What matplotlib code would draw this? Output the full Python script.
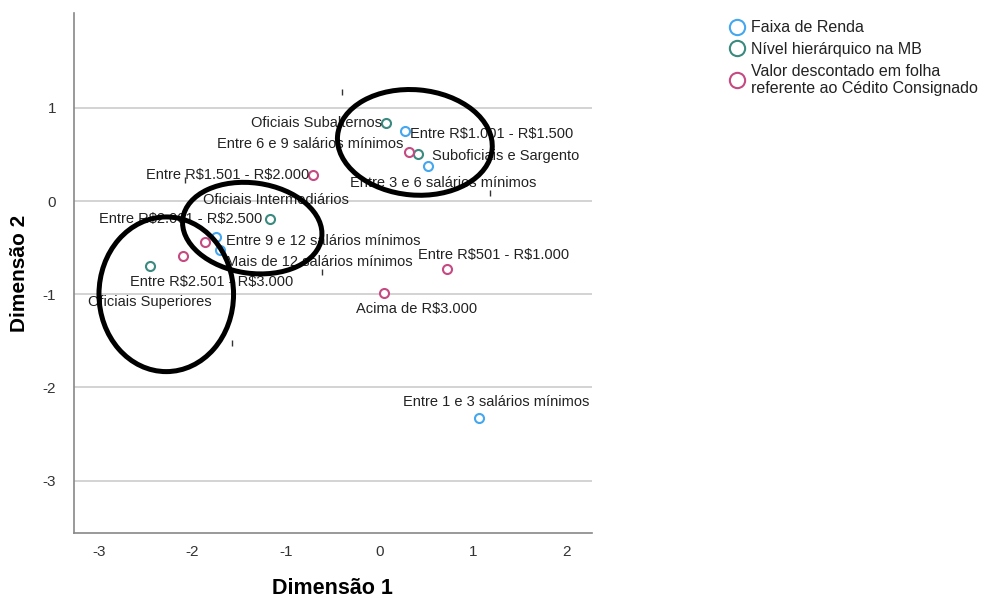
import matplotlib
matplotlib.use("Agg")
import matplotlib.pyplot as plt
from matplotlib.patches import Ellipse
from matplotlib.lines import Line2D

plt.rcParams['font.family'] = ['Liberation Sans', 'DejaVu Sans']
plt.rcParams['axes.unicode_minus'] = False

# --- category coordinates (Dimensão 1, Dimensão 2) ---
renda_labels = ["Entre 1 e 3 salários mínimos", "Entre 3 e 6 salários mínimos",
                "Entre 6 e 9 salários mínimos", "Entre 9 e 12 salários mínimos",
                "Mais de 12 salários mínimos"]
renda_x = [1.07, 0.52, 0.27, -1.75, -1.70]
renda_y = [-2.33, 0.38, 0.75, -0.38, -0.53]

nivel_labels = ["Oficiais Subalternos", "Suboficiais e Sargento",
                "Oficiais Intermediários", "Oficiais Superiores"]
nivel_x = [0.07, 0.41, -1.17, -2.45]
nivel_y = [0.84, 0.51, -0.19, -0.70]

valor_labels = ["Entre R$501 - R$1.000", "Entre R$1.001 - R$1.500",
                "Entre R$1.501 - R$2.000", "Entre R$2.001 - R$2.500",
                "Entre R$2.501 - R$3.000", "Acima de R$3.000"]
valor_x = [0.72, 0.32, -0.71, -1.87, -2.10, 0.05]
valor_y = [-0.73, 0.53, 0.28, -0.44, -0.59, -0.99]

series_names = ["Faixa de Renda", "Nível hierárquico na MB",
                "Valor descontado em folha\nreferente ao Cédito Consignado"]

# small stray label ticks left on the plot
stray_x = [-0.40, -2.08, -0.61, 1.18, -1.58]
stray_y = [1.17, 0.23, -0.76, 0.09, -1.52]

# highlighted groups: (center x, center y, width, height, angle)
groups = [(0.38, 0.63, 1.66, 1.13, -5),
          (-1.36, -0.29, 1.50, 0.97, -8),
          (-2.28, -1.00, 1.44, 1.66, 0)]

xticks = [-3, -2, -1, 0, 1, 2]
yticks = [-3, -2, -1, 0, 1]

# label placement: (ha, dx px, dy px)
renda_pos = [("center", 17, 16), ("center", 15, -17), ("right", -1, -13),
             ("left", 10, -4), ("left", 6, -12)]
nivel_pos = [("right", -4, 0), ("left", 14, -2), ("center", 6, 19), ("center", -1, -36)]
valor_pos = [("center", 47, 14), ("left", 1, 18), ("right", -4, 0),
             ("center", -24, 23), ("center", 29, -26), ("center", 33, -16)]

colors = ["#44a7ef", "#3a8a80", "#c64a82"]

fig = plt.figure(figsize=(10.03, 5.98), dpi=100)
ax = fig.add_axes([0.0738, 0.1087, 0.5162, 0.8693])
ax.set_xlim(-3.267, 2.273)
ax.set_ylim(-3.562, 2.017)

for yv in yticks:
    ax.axhline(yv, color="#cccccc", lw=1.2, zorder=0)

series = [(renda_x, renda_y, renda_labels, renda_pos),
          (nivel_x, nivel_y, nivel_labels, nivel_pos),
          (valor_x, valor_y, valor_labels, valor_pos)]

for (xs, ys, labs, pos), c in zip(series, colors):
    ax.plot(xs, ys, linestyle="none", marker="o", markersize=6.5,
            markerfacecolor="white", markeredgecolor=c, markeredgewidth=1.5, zorder=3)
    for x, y, lab, (ha, dx, dy) in zip(xs, ys, labs, pos):
        ax.annotate(lab, (x, y), xytext=(dx, dy), textcoords="offset pixels",
                    ha=ha, va="center", fontsize=10.5, color="#222222",
                    parse_math=False, zorder=4)

ax.plot(stray_x, stray_y, linestyle="none", marker="|", markersize=4,
        color="#333333", markeredgewidth=1)

for cx, cy, w, h, ang in groups:
    ax.add_patch(Ellipse((cx, cy), w, h, angle=ang, fill=False,
                         edgecolor="black", lw=3.6, zorder=5))

ax.set_xticks(xticks)
ax.set_yticks(yticks)
ax.tick_params(length=0, labelsize=11, labelcolor="#333333")
ax.tick_params(axis="x", pad=9)
ax.tick_params(axis="y", pad=13)
for s in ["top", "right"]:
    ax.spines[s].set_visible(False)
for s in ["left", "bottom"]:
    ax.spines[s].set_color("#888888")
    ax.spines[s].set_linewidth(1.2)

ax.set_xlabel("Dimensão 1", fontsize=15.5, fontweight="bold", labelpad=13)
ax.set_ylabel("Dimensão 2", fontsize=15, fontweight="bold", labelpad=10)

handles = [Line2D([], [], linestyle="none", marker="o", markersize=11,
                  markerfacecolor="white", markeredgecolor=c, markeredgewidth=1.5)
           for c in colors]
fig.legend(handles, series_names, loc="upper left", bbox_to_anchor=(0.713, 0.99),
           frameon=False, fontsize=11.5, handlelength=0.9, handletextpad=0.45,
           labelspacing=0.42, labelcolor="#222222")

fig.savefig("out.png", dpi=100)
